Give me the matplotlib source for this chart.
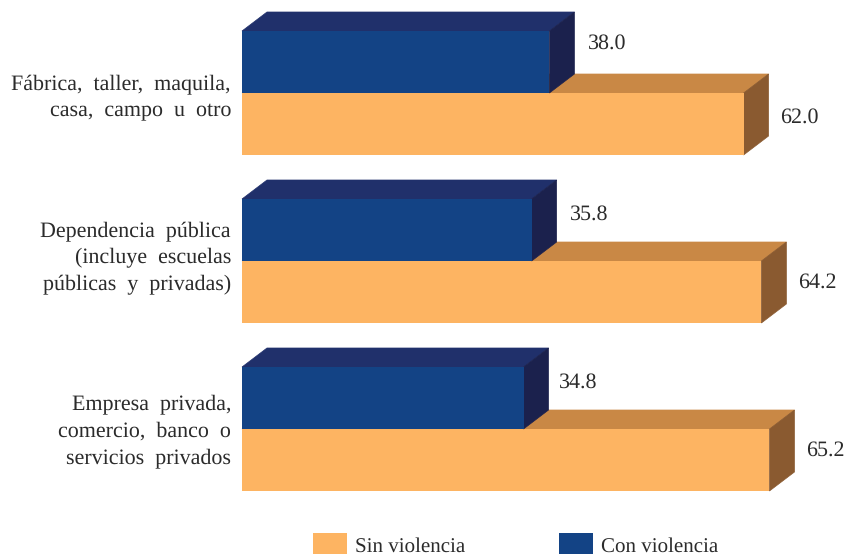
import matplotlib
matplotlib.use("Agg")
import matplotlib.pyplot as plt
from matplotlib.patches import Patch

categories = ["Fábrica,  taller,  maquila,\ncasa,  campo  u  otro",
              "Dependencia  pública\n(incluye  escuelas\npúblicas  y  privadas)",
              "Empresa  privada,\ncomercio,  banco  o\nservicios  privados"]
sin_violencia = [62.0, 64.2, 65.2]
con_violencia = [38.0, 35.8, 34.8]

W, H = 847, 554
X0, PX_PER_UNIT = 242, 8.09
Y0, PX_PER_ROW = 93, 168
BAR_H = 62 / PX_PER_ROW
DX, DY = 25 / PX_PER_UNIT, 19 / PX_PER_ROW
FS_VAL, FS_CAT, FS_LEG = 15.8, 16, 15.4
SIN_NUDGE = [-7, -10, -10]
CON_NUDGE = [-19, -16, -16]
CON_GAP = [14, 13, 10]
SIN_GAP = [11, 12, 12]
CAT_NUDGE = [4.5, -3, 2]

plt.rcParams["font.family"] = "Liberation Serif"
plt.rcParams["text.hinting"] = "no_hinting"
plt.rcParams["text.hinting_factor"] = 1
fig = plt.figure(figsize=(W / 100, H / 100), dpi=100)
ax = fig.add_axes([0, 0, 1, 1])
ax.set_xlim(-X0 / PX_PER_UNIT, (W - X0) / PX_PER_UNIT)
ax.set_ylim((H - Y0) / PX_PER_ROW, -Y0 / PX_PER_ROW)
ax.axis("off")


def bar3d(value, y_top, front, top, side, z):
    y_bot = y_top + BAR_H
    ax.fill([0, value, value + DX, DX], [y_top, y_top, y_top - DY, y_top - DY],
            color=top, lw=0.5, zorder=z)
    ax.fill([value, value + DX, value + DX, value],
            [y_top, y_top - DY, y_bot - DY, y_bot], color=side, lw=0.5, zorder=z)
    ax.barh(y_top + BAR_H / 2, value, height=BAR_H, color=front, lw=0, zorder=z)


ORANGE = ("#FDB462", "#C98845", "#8A5A30")
BLUE = ("#134385", "#20306B", "#1B214D")
TXT = "#2b2b2b"
for i, (cat, s, c) in enumerate(zip(categories, sin_violencia, con_violencia)):
    bar3d(s, i, *ORANGE, 2)
    bar3d(c, i - BAR_H, *BLUE, 3)
    ax.text(s + DX + SIN_GAP[i] / PX_PER_UNIT, i + BAR_H / 2 + SIN_NUDGE[i] / PX_PER_ROW, f"{s:.1f}",
            fontsize=FS_VAL, color=TXT, ha="left", va="center")
    ax.text(c + DX + CON_GAP[i] / PX_PER_UNIT, i - BAR_H / 2 + CON_NUDGE[i] / PX_PER_ROW, f"{c:.1f}",
            fontsize=FS_VAL, color=TXT, ha="left", va="center")
    ax.text(-11 / PX_PER_UNIT, i + CAT_NUDGE[i] / PX_PER_ROW, cat, fontsize=FS_CAT, color=TXT,
            ha="right", va="center", multialignment="right", linespacing=1.47)

handles = [Patch(color=ORANGE[0], lw=0, label="Sin violencia"),
           Patch(color=BLUE[0], lw=0, label="Con violencia")]
ax.legend(handles=handles, ncol=2, frameon=False, fontsize=FS_LEG, labelcolor=TXT,
          loc="lower left", bbox_to_anchor=(313 / W, -2 / H), borderaxespad=0, borderpad=0,
          handlelength=1.59, handleheight=1.3, handletextpad=0.37, columnspacing=4.39)

fig.savefig("out.png", dpi=100)
